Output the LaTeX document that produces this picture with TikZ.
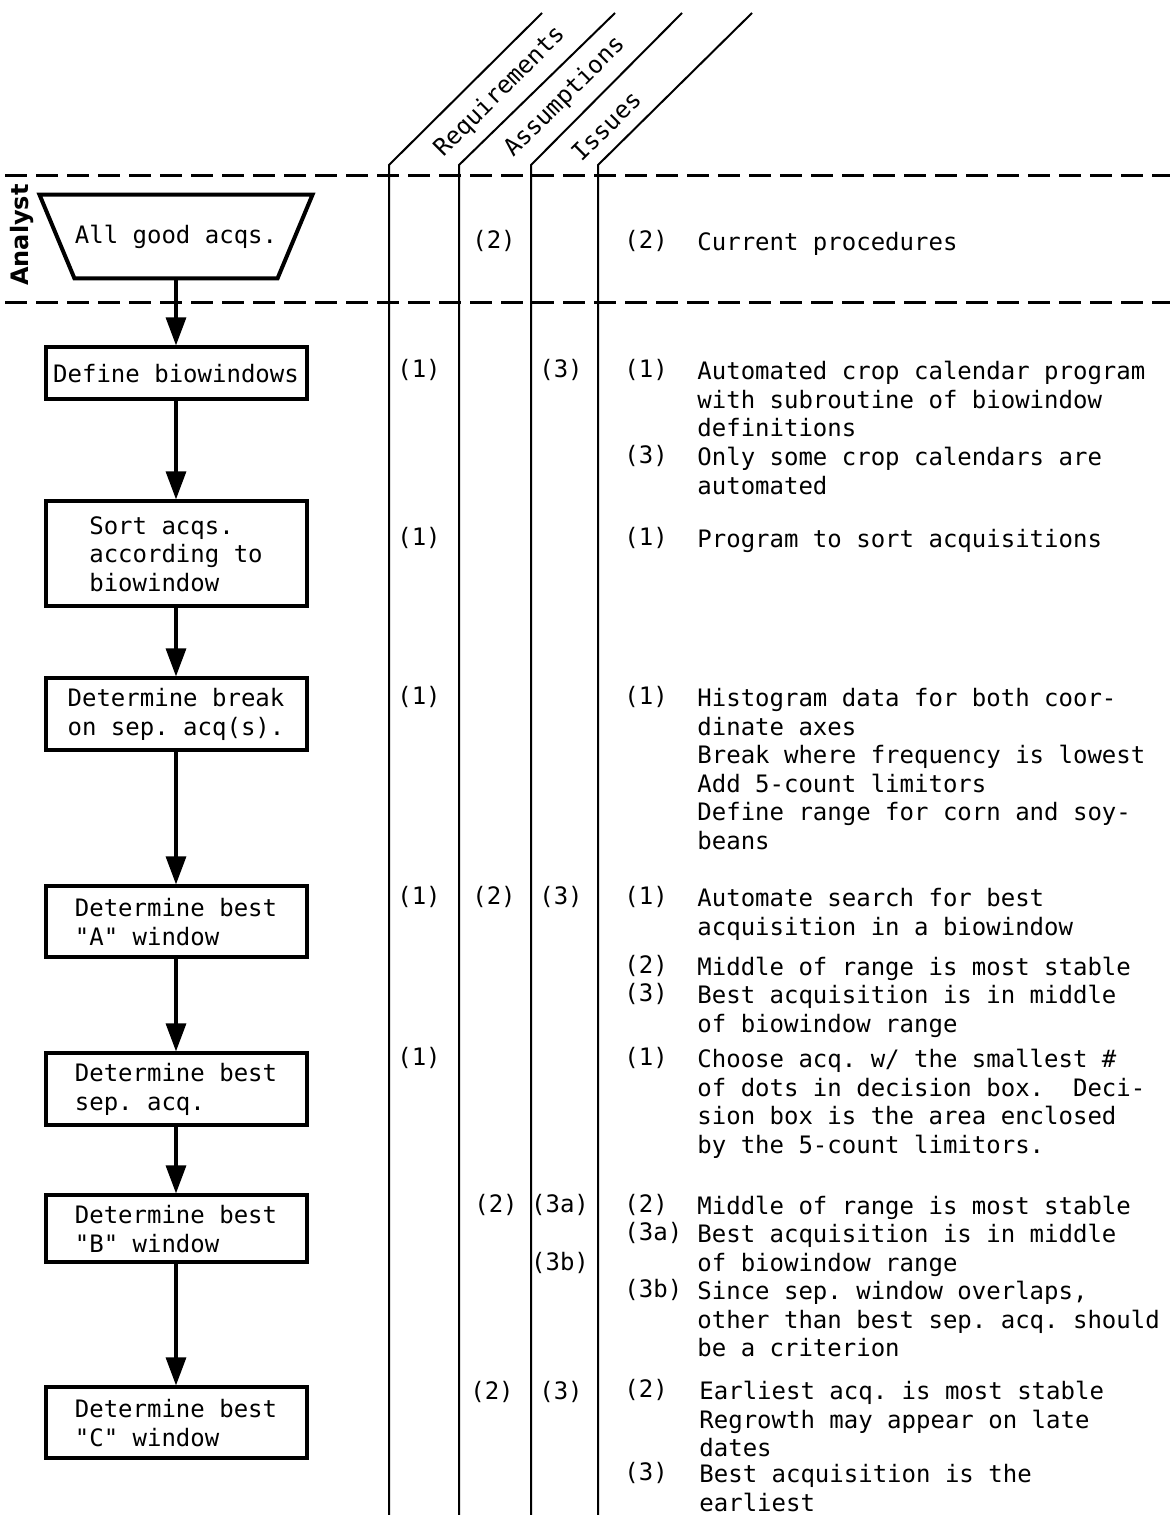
\documentclass[tikz,border=0pt]{standalone}
\usepackage{fontspec}
\setmainfont{DejaVu Sans Mono}
\setsansfont{DejaVu Sans}
\usepackage{tikz}
\usetikzlibrary{positioning}
\usetikzlibrary{arrows.meta}

\begin{document}
\begin{tikzpicture}[x=0.5pt, y=-0.5pt,
    every node/.style = {font=\fontsize{12}{14.25}\selectfont\frenchspacing},
    box/.style = {draw, line width=2pt, minimum width=130.5pt, align=left, inner sep=0pt},
    flow/.style = {line width=1.6pt, -{Triangle[width=10pt, length=14pt]}},
    lane/.style = {line width=1.5pt, dash pattern=on 11pt off 4.5pt},
    colline/.style = {line width=1pt},
    num/.style = {anchor=west, inner sep=0pt},
    note/.style = {anchor=north west, align=left, inner sep=0pt}]
  \useasboundingbox (0,0) rectangle (1170,1515);

  % swim lane of the analyst
  \draw[lane] (5,175) -- (1170,175);
  \draw[lane] (5,302) -- (1170,302);
  \node[rotate=90, font=\sffamily\bfseries\fontsize{12}{14}\selectfont] (analyst) at (22,235) {Analyst};

  % table columns and their headers
  \foreach \x/\t in {389/542, 459/615, 531/682, 598/752}
    \draw[colline] (\x,1515) -- (\x,165) -- (\t,13);
  \node[rotate=45] (req) at (500,92) {Requirements};
  \node[rotate=45] (asm) at (565,97) {Assumptions};
  \node[rotate=45] (iss) at (606,126) {Issues};

  % flow chart
  \node[minimum width=94pt, minimum height=41.5pt, inner sep=0pt] (good) at (176,236.5) {All good acqs.};
  \draw[line width=2pt] (good.south west) -- (good.south east) -- ([xshift=17.5pt]good.north east)
    -- ([xshift=-17.5pt]good.north west) -- cycle;
  \node[box, minimum height=26pt, below=33.5pt of good] (define) {Define biowindows};
  \node[box, minimum height=52.5pt, below=49pt of define] (sort) {Sort acqs.\\according to\\biowindow};
  \node[box, minimum height=36pt, below=34pt of sort] (brk) {Determine break\\on sep. acq(s).};
  \node[box, minimum height=35.5pt, below=66pt of brk] (bestA) {Determine best\\\textquotedbl A\textquotedbl{} window};
  \node[box, minimum height=36pt, below=46pt of bestA] (sep) {Determine best\\sep. acq.};
  \node[box, minimum height=33.5pt, below=33pt of sep] (bestB) {Determine best\\\textquotedbl B\textquotedbl{} window};
  \node[box, minimum height=35.5pt, below=60.5pt of bestB] (bestC) {Determine best\\\textquotedbl C\textquotedbl{} window};
  \foreach \a/\b in {good/define, define/sort, sort/brk, brk/bestA, bestA/sep, sep/bestB, bestB/bestC}
    \draw[flow] (\a) -- (\b);

  % entries in the columns
  \foreach \n/\x/\y/\l in {r1/419/370/(1), r2/419/538/(1), r3/419/697/(1), r4/419/897/(1), r5/419/1058/(1),
      a0/494/241/(2), a4/494/897/(2), a6/496/1205/(2), a7/492/1392/(2),
      i1/561/370/(3), i4/561/897/(3), i6a/560/1205/(3a), i6b/560/1263/(3b), i7/561/1392/(3)}
    \node (c\n) at (\x,\y) {\l};

  % notes
  \foreach \n/\y/\l in {0/241/(2), 1a/370/(1), 1b/456/(3), 2/538/(1), 3/697/(1), 4a/897/(1), 4b/966/(2),
      4c/994/(3), 5/1058/(1), 6a/1205/(2), 6b/1233/(3a), 6c/1290/(3b), 7a/1390/(2), 7b/1473/(3)}
    \node[num] (lab\n) at (624,\y) {\l};
  \node[note] (txt0) at (697,232) {Current procedures};
  \node[note] (txt1a) at (697,361) {Automated crop calendar program\\with subroutine of biowindow\\definitions};
  \node[note] (txt1b) at (697,447) {Only some crop calendars are\\automated};
  \node[note] (txt2) at (697,529) {Program to sort acquisitions};
  \node[note] (txt3) at (697,688) {Histogram data for both coor-\\dinate axes\\Break where frequency is lowest\\Add 5-count limitors\\Define range for corn and soy-\\beans};
  \node[note] (txt4a) at (697,888) {Automate search for best\\acquisition in a biowindow};
  \node[note] (txt4b) at (697,957) {Middle of range is most stable};
  \node[note] (txt4c) at (697,985) {Best acquisition is in middle\\of biowindow range};
  \node[note] (txt5) at (697,1049) {Choose acq. w/ the smallest \#\\of dots in decision box.\ \ Deci-\\sion box is the area enclosed\\by the 5-count limitors.};
  \node[note] (txt6a) at (697,1196) {Middle of range is most stable};
  \node[note] (txt6b) at (697,1224) {Best acquisition is in middle\\of biowindow range};
  \node[note] (txt6c) at (697,1281) {Since sep. window overlaps,\\other than best sep. acq. should\\be a criterion};
  \node[note] (txt7a) at (699,1381) {Earliest acq. is most stable\\Regrowth may appear on late\\dates};
  \node[note] (txt7b) at (699,1464) {Best acquisition is the\\earliest};
\end{tikzpicture}
\end{document}
